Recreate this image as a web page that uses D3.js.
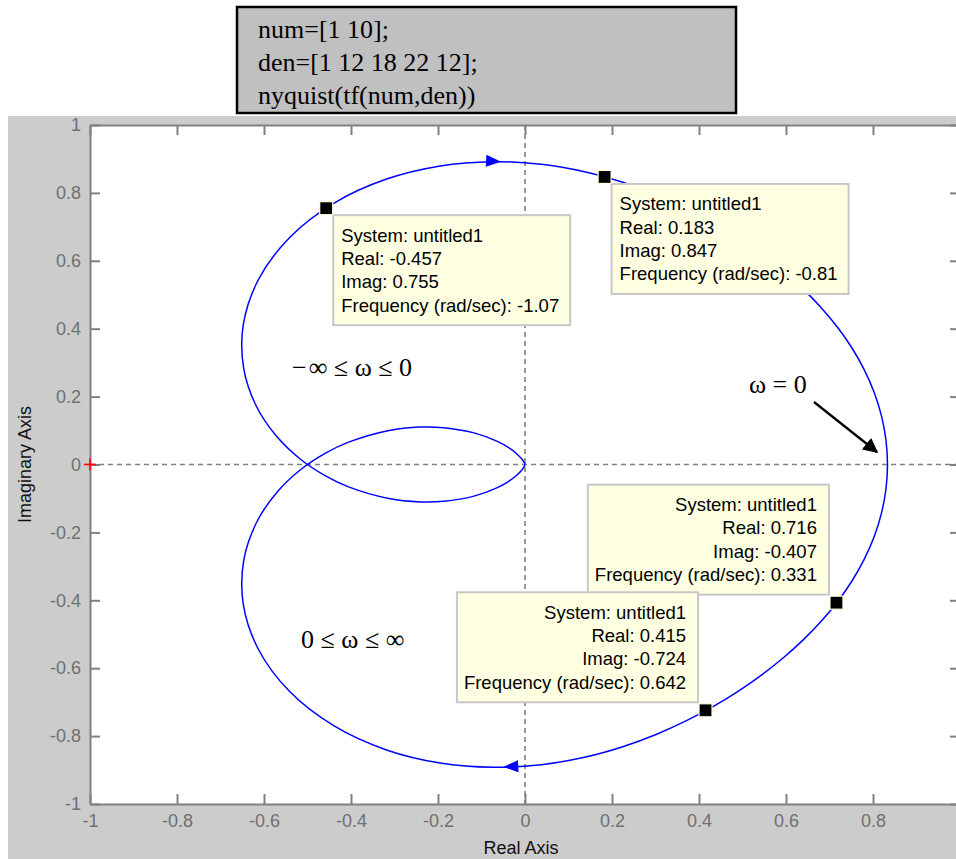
<!DOCTYPE html>
<html>
<head>
<meta charset="utf-8">
<script src="https://cdn.jsdelivr.net/npm/d3@7"></script>
<style>
  html, body { margin: 0; padding: 0; background: #ffffff; }
  svg { display: block; }
</style>
</head>
<body>
<svg id="chart" width="956" height="859"></svg>
<script>
// ---- data ----
const codeLines = ["num=[1 10];", "den=[1 12 18 22 12];", "nyquist(tf(num,den))"];

const xTicks = [-1, -0.8, -0.6, -0.4, -0.2, 0, 0.2, 0.4, 0.6, 0.8, 1];
const xTickLabels = ["-1", "-0.8", "-0.6", "-0.4", "-0.2", "0", "0.2", "0.4", "0.6", "0.8", "1"];
const yTicks = [-1, -0.8, -0.6, -0.4, -0.2, 0, 0.2, 0.4, 0.6, 0.8, 1];
const yTickLabels = ["-1", "-0.8", "-0.6", "-0.4", "-0.2", "0", "0.2", "0.4", "0.6", "0.8", "1"];

// Negative-frequency branch, traversed from w = -inf up to w = 0
const negRe = [0, -0.0002, -0.0007, -0.0026, -0.0063, -0.0205, -0.0375, -0.0635, -0.1172, -0.1871,
  -0.2408, -0.3125, -0.4056, -0.4596, -0.5162, -0.5711, -0.6178, -0.6467, -0.6477, -0.6130,
  -0.5415, -0.4398, -0.3200, -0.1948, -0.0738, 0.0373, 0.1368, 0.2248, 0.3028, 0.3724,
  0.4352, 0.4924, 0.5451, 0.5939, 0.6390, 0.6804, 0.7180, 0.7513, 0.7797, 0.8026,
  0.8195, 0.8298, 0.8333];
const negIm = [0, -0.0010, -0.0028, -0.0075, -0.0145, -0.0333, -0.0494, -0.0680, -0.0931, -0.1085,
  -0.1102, -0.1003, -0.0658, -0.0328, 0.0155, 0.0829, 0.1723, 0.2833, 0.4110, 0.5441,
  0.6681, 0.7693, 0.8400, 0.8794, 0.8920, 0.8842, 0.8623, 0.8312, 0.7944, 0.7539,
  0.7109, 0.6658, 0.6187, 0.5693, 0.5174, 0.4627, 0.4049, 0.3439, 0.2797, 0.2127,
  0.1432, 0.0721, 0];

// Positive-frequency branch, traversed from w = 0 up to w = +inf
const posRe = [0.8333, 0.8298, 0.8195, 0.8026, 0.7797, 0.7513, 0.7180, 0.6804, 0.6390, 0.5939,
  0.5451, 0.4924, 0.4352, 0.3724, 0.3028, 0.2248, 0.1368, 0.0373, -0.0738, -0.1948,
  -0.3200, -0.4398, -0.5415, -0.6130, -0.6477, -0.6467, -0.6178, -0.5711, -0.5162, -0.4596,
  -0.4056, -0.3125, -0.2408, -0.1871, -0.1172, -0.0635, -0.0375, -0.0205, -0.0063, -0.0026,
  -0.0007, -0.0002, 0];
const posIm = [0, -0.0721, -0.1432, -0.2127, -0.2797, -0.3439, -0.4049, -0.4627, -0.5174, -0.5693,
  -0.6187, -0.6658, -0.7109, -0.7539, -0.7944, -0.8312, -0.8623, -0.8842, -0.8920, -0.8794,
  -0.8400, -0.7693, -0.6681, -0.5441, -0.4110, -0.2833, -0.1723, -0.0829, -0.0155, 0.0328,
  0.0658, 0.1003, 0.1102, 0.1085, 0.0931, 0.0680, 0.0494, 0.0333, 0.0145, 0.0075,
  0.0028, 0.0010, 0];

// Direction arrowheads on the locus (tip positions)
const arrowRe = [-0.055, -0.050];
const arrowIm = [0.892, -0.891];

// Data tips
const tipSystem = ["untitled1", "untitled1", "untitled1", "untitled1"];
const tipRe = [-0.457, 0.183, 0.716, 0.415];
const tipIm = [0.755, 0.847, -0.407, -0.724];
const tipFreq = ["-1.07", "-0.81", "0.331", "0.642"];

// Critical point
const critRe = [-1];
const critIm = [0];

// Hand annotations
const rangeLabels = ["\u2212\u200A\u221E \u2264 \u03C9 \u2264 0", "0 \u2264 \u03C9 \u2264 \u221E", "\u03C9 = 0"];

// ---- layout ----
const W = 956, H = 859;
const svg = d3.select("#chart");
const axisGray = "#808080";

// code box
const codeBox = { x: 237, y: 7, w: 499, h: 106 };
svg.append("rect")
  .attr("x", codeBox.x).attr("y", codeBox.y)
  .attr("width", codeBox.w).attr("height", codeBox.h)
  .attr("fill", "#c0c0c0").attr("stroke", "#000").attr("stroke-width", 2.5);
svg.append("g").selectAll("text").data(codeLines).join("text")
  .attr("x", 258)
  .attr("y", (d, i) => 38 + i * 33)
  .attr("font-family", "'Liberation Serif', 'Times New Roman', serif")
  .attr("font-size", 26)
  .attr("fill", "#000")
  .text(d => d);

// figure background
svg.append("rect").attr("x", 8).attr("y", 116).attr("width", W - 8).attr("height", H - 116)
  .attr("fill", "#cccccc");

// scales
const x = d3.scaleLinear().domain([-1, 1]).range([90, 960]);
const y = d3.scaleLinear().domain([-1, 1]).range([804, 125]);

// axes area
svg.append("rect")
  .attr("x", x(-1)).attr("y", y(1))
  .attr("width", x(1) - x(-1)).attr("height", y(-1) - y(1))
  .attr("fill", "#ffffff");

svg.append("clipPath").attr("id", "plotClip")
  .append("rect")
  .attr("x", x(-1)).attr("y", y(1))
  .attr("width", x(1) - x(-1)).attr("height", y(-1) - y(1));

const plot = svg.append("g").attr("clip-path", "url(#plotClip)");

// zero lines
plot.append("line")
  .attr("x1", x(-1)).attr("x2", x(1)).attr("y1", y(0)).attr("y2", y(0))
  .attr("stroke", axisGray).attr("stroke-width", 1.6).attr("stroke-dasharray", "5,4");
plot.append("line")
  .attr("x1", x(0)).attr("x2", x(0)).attr("y1", y(1)).attr("y2", y(-1))
  .attr("stroke", axisGray).attr("stroke-width", 1.6).attr("stroke-dasharray", "5,4");

// locus
const locus = negRe.map((r, i) => [r, negIm[i]])
  .concat(posRe.slice(1).map((r, i) => [r, posIm[i + 1]]));
const line = d3.line().x(d => x(d[0])).y(d => y(d[1])).curve(d3.curveCatmullRom.alpha(0.5));
plot.append("path")
  .attr("d", line(locus))
  .attr("fill", "none").attr("stroke", "#0000ff").attr("stroke-width", 1.5);

// arrowheads oriented along the locus
function locusAngle(re, im) {
  let best = 0, bestD = Infinity;
  for (let i = 0; i < locus.length - 1; i++) {
    const mx = (x(locus[i][0]) + x(locus[i + 1][0])) / 2;
    const my = (y(locus[i][1]) + y(locus[i + 1][1])) / 2;
    const d = (mx - x(re)) ** 2 + (my - y(im)) ** 2;
    if (d < bestD) { bestD = d; best = i; }
  }
  const a = locus[best], b = locus[best + 1];
  return Math.atan2(y(b[1]) - y(a[1]), x(b[0]) - x(a[0])) * 180 / Math.PI;
}
arrowRe.forEach((r, i) => {
  const ang = locusAngle(r, arrowIm[i]);
  plot.append("path")
    .attr("d", "M0,0 L-15,-6 L-15,6 Z")
    .attr("transform", `translate(${x(r)},${y(arrowIm[i])}) rotate(${ang})`)
    .attr("fill", "#0000ff");
});

// axes with inward ticks
const tickFont = "'Liberation Sans', Arial, sans-serif";
function styleAxis(g) {
  g.select(".domain").attr("stroke", axisGray).attr("stroke-width", 2);
  g.selectAll(".tick line").attr("stroke", axisGray).attr("stroke-width", 2);
  g.selectAll(".tick text").attr("fill", "#707070")
    .attr("font-family", tickFont).attr("font-size", 18);
}
svg.append("g").attr("transform", `translate(0,${y(-1)})`)
  .call(d3.axisBottom(x).tickValues(xTicks).tickSizeInner(-10).tickSizeOuter(0).tickPadding(10)
    .tickFormat((d, i) => xTickLabels[i]))
  .call(styleAxis);
svg.append("g").attr("transform", `translate(${x(-1)},0)`)
  .call(d3.axisLeft(y).tickValues(yTicks).tickSizeInner(-10).tickSizeOuter(0).tickPadding(9)
    .tickFormat((d, i) => yTickLabels[i]))
  .call(styleAxis);
svg.append("g").attr("transform", `translate(0,${y(1)})`)
  .call(d3.axisTop(x).tickValues(xTicks).tickSizeInner(-10).tickSizeOuter(0).tickFormat(""))
  .call(styleAxis);
svg.append("g").attr("transform", `translate(${x(1)},0)`)
  .call(d3.axisRight(y).tickValues(yTicks).tickSizeInner(-10).tickSizeOuter(0).tickFormat(""))
  .call(styleAxis);

// critical point marker (-1, 0), drawn over the left axis
critRe.forEach((r, i) => {
  const g = svg.append("g").attr("transform", `translate(${x(r)},${y(critIm[i])})`);
  g.append("line").attr("x1", -6).attr("x2", 6).attr("stroke", "#ff0000").attr("stroke-width", 1.6);
  g.append("line").attr("y1", -6).attr("y2", 6).attr("stroke", "#ff0000").attr("stroke-width", 1.6);
});

// axis titles
svg.append("text")
  .attr("x", (x(-1) + x(1)) / 2 - 4).attr("y", 854)
  .attr("text-anchor", "middle")
  .attr("font-family", tickFont).attr("font-size", 18).attr("fill", "#111")
  .text("Real Axis");
svg.append("text")
  .attr("transform", `translate(31,${y(0)}) rotate(-90)`)
  .attr("text-anchor", "middle")
  .attr("font-family", tickFont).attr("font-size", 18).attr("fill", "#111")
  .text("Imaginary Axis");

// hand annotations
const mathFont = "'Liberation Serif', 'Times New Roman', serif";
svg.append("text").attr("x", 292).attr("y", 376)
  .attr("font-family", mathFont).attr("font-size", 26).attr("fill", "#000")
  .text(rangeLabels[0]);
svg.append("text").attr("x", 301).attr("y", 648)
  .attr("font-family", mathFont).attr("font-size", 26).attr("fill", "#000")
  .text(rangeLabels[1]);
svg.append("text").attr("x", 749).attr("y", 393)
  .attr("font-family", mathFont).attr("font-size", 26).attr("fill", "#000")
  .text(rangeLabels[2]);

// pointer arrow to the w = 0 crossing
svg.append("defs").append("marker")
  .attr("id", "blackHead").attr("viewBox", "0 0 10 10")
  .attr("refX", 9).attr("refY", 5)
  .attr("markerWidth", 6.5).attr("markerHeight", 6.5)
  .attr("markerUnits", "strokeWidth")
  .attr("orient", "auto")
  .append("path").attr("d", "M0,0 L10,5 L0,10 Z").attr("fill", "#000");
svg.append("line")
  .attr("x1", 814).attr("y1", 402).attr("x2", 877).attr("y2", 452)
  .attr("stroke", "#000").attr("stroke-width", 2.3)
  .attr("marker-end", "url(#blackHead)");

// data tips
const tipFont = "'Liberation Sans', Arial, sans-serif";
const tipPlacement = ["se", "se", "nw", "nw"];
tipRe.forEach((r, i) => {
  const mx = x(r), my = y(tipIm[i]);
  const lines = [
    "System: " + tipSystem[i],
    "Real: " + r,
    "Imag: " + tipIm[i],
    "Frequency (rad/sec): " + tipFreq[i]
  ];
  const g = svg.append("g");
  const box = g.append("rect").attr("fill", "#ffffe1").attr("stroke", "#c8c8c8").attr("stroke-width", 2);
  const texts = g.selectAll("text").data(lines).join("text")
    .attr("font-family", tipFont).attr("font-size", 18.5).attr("fill", "#000")
    .text(d => d);
  let tw = 0;
  texts.each(function () { tw = Math.max(tw, this.getComputedTextLength()); });
  const bw = tw + 19, bh = 110;
  let bx, by;
  if (tipPlacement[i] === "se") { bx = mx + 7; by = my + 7; }
  else { bx = mx - 7.5 - bw; by = my - 8 - bh; }
  box.attr("x", bx).attr("y", by).attr("width", bw).attr("height", bh);
  if (tipPlacement[i] === "se") {
    texts.attr("x", bx + 8).attr("text-anchor", "start");
  } else {
    texts.attr("x", bx + bw - 12).attr("text-anchor", "end");
  }
  texts.attr("y", (d, k) => by + 26.5 + k * 23.3);

  // marker square on the locus
  svg.append("rect")
    .attr("x", mx - 6.5).attr("y", my - 6.5).attr("width", 13).attr("height", 13)
    .attr("fill", "#000").attr("stroke", "#ffffe1").attr("stroke-width", 1.2);
});
</script>
</body>
</html>
